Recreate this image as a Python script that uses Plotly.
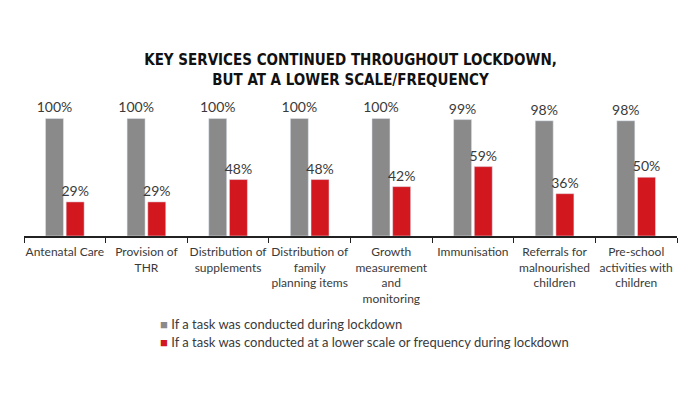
import plotly.graph_objects as go

categories = [
    "Antenatal Care",
    "Provision of<br>THR",
    "Distribution of<br>supplements",
    "Distribution of<br>family<br>planning items",
    "Growth<br>measurement<br>and<br>monitoring",
    "Immunisation",
    "Referrals for<br>malnourished<br>children",
    "Pre-school<br>activities with<br>children",
]
conducted = [100, 100, 100, 100, 100, 99, 98, 98]
lower_scale = [29, 29, 48, 48, 42, 59, 36, 50]
series_names = [
    "If a task was conducted during lockdown",
    "If a task was conducted at a lower scale or frequency during lockdown",
]

GRAY = "#8a8a8a"
RED = "#d2171f"
TEXT = "#3a3a3a"
FONT = "Lato, 'Open Sans', sans-serif"

fig = go.Figure()
for vals, name, col in zip([conducted, lower_scale], series_names, [GRAY, RED]):
    fig.add_trace(go.Bar(
        x=categories, y=vals, name=name, marker_color=col,
        texttemplate="%{y}%", textposition="outside", cliponaxis=False,
        constraintext="none",
        textfont=dict(size=14, color=TEXT, family=FONT),
    ))

fig.update_layout(
    width=700, height=394,
    margin=dict(l=16, r=31, t=81, b=166, autoexpand=False),
    paper_bgcolor="white", plot_bgcolor="white",
    barmode="group", bargap=0.493, bargroupgap=0.13,
    showlegend=False,
    font=dict(family=FONT, size=12, color=TEXT),
    title=dict(
        text="<b>KEY SERVICES CONTINUED THROUGHOUT LOCKDOWN,<br>BUT AT A LOWER SCALE/FREQUENCY</b>",
        x=0.5, xanchor="center", xref="paper",
        y=1 - 57 / 394, yanchor="middle", yref="container",
        font=dict(family="'Liberation Sans Narrow', 'DejaVu Sans Condensed', sans-serif", size=15, color="#111111"),
    ),
    xaxis=dict(
        type="category", showline=True, linecolor="#222222", linewidth=1.5,
        ticks="outside", tickson="boundaries", ticklen=5, tickcolor="#222222",
        tickangle=0, automargin=False, ticklabelstandoff=4,
        tickfont=dict(size=12, color=TEXT, family=FONT), showgrid=False,
    ),
    yaxis=dict(range=[0, 125], visible=False, showgrid=False),
)

legend_y = [-0.596, -0.721]
for name, col, yy in zip(series_names, [GRAY, RED], legend_y):
    fig.add_annotation(
        xref="paper", yref="paper", x=(150 - 16) / 653, y=yy,
        xanchor="left", yanchor="middle", showarrow=False,
        text=f"<span style='color:{col}'>■</span> {name}",
        font=dict(size=13, color=TEXT, family=FONT),
    )

fig.write_html("out.html")
